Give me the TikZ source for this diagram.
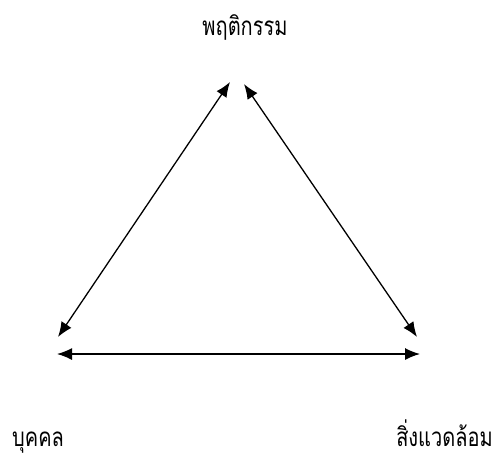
\documentclass[tikz,border=0pt]{standalone}
\usepackage{fontspec}
\usepackage{graphicx}
\newfontfamily\thaifont[Script=Thai]{Loma}
\usetikzlibrary{arrows.meta}
\newcommand{\thaitext}[1]{\scalebox{1}[1.3]{#1}}
\tikzset{
  every node/.style={font=\thaifont\fontsize{20}{24}\selectfont},
  label/.style={inner sep=0pt},
  link/.style={{Latex[length=15pt,width=12pt]}-{Latex[length=15pt,width=12pt]}, line width=1.3pt},
}
\begin{document}
\begin{tikzpicture}[x=1pt,y=-1pt]
  \useasboundingbox (0,0) rectangle (495,459);
  % labels
  \node[label, anchor=base] (beh) at (245,35) {\thaitext{พฤติกรรม}};
  \node[label, anchor=base west] (per) at (12,446) {\thaitext{บุคคล}};
  \node[label, anchor=base east] (env) at (493,446) {\thaitext{สิ่งแวดล้อม}};
  % arrow ends
  \coordinate (topl) at (230,82);
  \coordinate (topr) at (244,84);
  \coordinate (botl) at (58,337);
  \coordinate (botr) at (417,337);
  \coordinate (basel) at (57,354);
  \coordinate (baser) at (420,354);
  \draw[link] (topl) -- (botl);
  \draw[link] (topr) -- (botr);
  \draw[link] (basel) -- (baser);
\end{tikzpicture}
\end{document}
